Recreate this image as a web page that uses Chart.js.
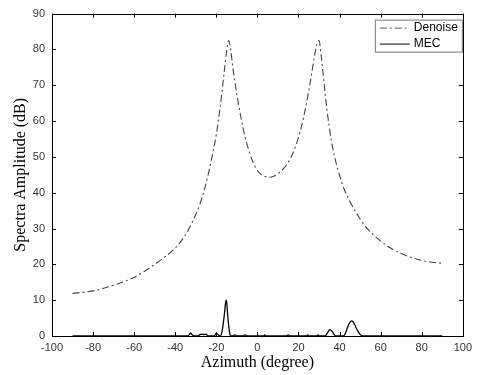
<!DOCTYPE html>
<html>
<head>
<meta charset="utf-8">
<script src="https://cdn.jsdelivr.net/npm/chart.js@4/dist/chart.umd.min.js"></script>
<style>
  html, body { margin: 0; padding: 0; background: #fff; }
  #wrap { width: 477px; height: 375px; }
</style>
</head>
<body>
<div id="wrap"><canvas id="chartCanvas" width="477" height="375"></canvas></div>
<script>
"use strict";

// Denoise spectrum (dB)
const denoiseAz = [-90, -80, -70, -60, -50, -40, -36, -32, -28, -26, -24, -22, -20, -18, -16, -15, -14, -13, -12, -11, -10, -8, -6, -4, -2, 0, 2, 4, 6, 8, 10, 12, 14, 16, 18, 20, 22, 24, 26, 28, 29, 30, 31, 32, 33, 34, 36, 38, 40, 42, 45, 48, 52, 56, 60, 65, 70, 75, 80, 85, 90];
const denoiseDb = [11.9, 12.6, 14.2, 16.4, 20.0, 24.6, 27.4, 31.4, 36.8, 40.5, 45.0, 50.2, 56.3, 64.5, 74.5, 79.5, 82.5, 79.8, 75.2, 71.0, 67.4, 61.0, 55.5, 51.5, 48.3, 46.2, 45.0, 44.5, 44.3, 44.6, 45.3, 46.3, 47.6, 49.5, 52.0, 55.5, 59.8, 65.3, 71.8, 78.8, 81.5, 82.5, 78.5, 73.0, 67.5, 62.5, 54.5, 49.0, 44.8, 41.3, 37.6, 34.5, 31.0, 28.5, 26.5, 24.5, 23.0, 21.9, 21.1, 20.6, 20.3];

// MEC spectrum (dB)
const mecAz = [-90, -34, -33, -32.5, -32, -31, -29, -28, -27, -26, -25, -24, -21, -20, -19, -18, -17, -16, -15.3, -15, -14.5, -14, -13.5, -13, -12, -11, -10, -7, -6, -5, 3, 3.5, 4, 14, 15, 16, 24, 24.5, 25, 29, 29.5, 30, 33, 34, 35.3, 36.5, 37.5, 38.5, 42, 43, 44, 45, 45.8, 46.5, 47.5, 48.5, 49.5, 50.5, 51.5, 90];
const mecDb = [0, 0, 0.5, 0.8, 0.5, 0, 0, 0.4, 0.5, 0.4, 0.5, 0, 0, 0.8, 0.3, 0, 2, 6.5, 10, 9.6, 6, 3, 0.8, 0, 0, 0.3, 0, 0, 0.3, 0, 0, 0.3, 0, 0, 0.3, 0, 0, 0.3, 0, 0, 0.3, 0, 0, 0.8, 1.8, 1.2, 0.3, 0, 0, 1, 2.6, 3.8, 4.2, 4.0, 3.0, 1.8, 0.8, 0.2, 0, 0];

const xTicks = [-100, -80, -60, -40, -20, 0, 20, 40, 60, 80, 100];
const yTicks = [0, 10, 20, 30, 40, 50, 60, 70, 80, 90];

const seriesNames = ['Denoise', 'MEC'];
const denoiseDash = [7, 3, 2, 3];

function pairs(xs, ys) {
    return xs.map((x, i) => ({ x: x, y: ys[i] }));
}

// box + inward ticks on all four sides, like the original
const boxPlugin = {
    id: 'box',
    afterDraw(chart) {
        const { ctx, chartArea: a, scales } = chart;
        ctx.save();
        ctx.strokeStyle = '#000';
        ctx.lineWidth = 1;
        ctx.beginPath();
        xTicks.forEach((t) => {
            const px = Math.round(scales.x.getPixelForValue(t)) + 0.5;
            ctx.moveTo(px, a.bottom); ctx.lineTo(px, a.bottom - 4);
            ctx.moveTo(px, a.top); ctx.lineTo(px, a.top + 4);
        });
        yTicks.forEach((t) => {
            const py = Math.round(scales.y.getPixelForValue(t)) + 0.5;
            ctx.moveTo(a.left, py); ctx.lineTo(a.left + 4, py);
            ctx.moveTo(a.right, py); ctx.lineTo(a.right - 4, py);
        });
        ctx.stroke();
        ctx.strokeRect(Math.round(a.left) + 0.5, Math.round(a.top) + 0.5,
            Math.round(a.right - a.left), Math.round(a.bottom - a.top));
        ctx.restore();
    }
};

// legend box in the upper right corner
const legendPlugin = {
    id: 'innerLegend',
    afterDraw(chart) {
        const { ctx, chartArea: a } = chart;
        const w = 87, h = 32;
        const x0 = a.right - w - 1, y0 = a.top + 6;
        ctx.save();
        ctx.fillStyle = '#fff';
        ctx.fillRect(x0, y0, w, h);
        ctx.strokeStyle = '#777';
        ctx.lineWidth = 1;
        ctx.strokeRect(x0 + 0.5, y0 + 0.5, w, h);
        ctx.font = '12px "Liberation Sans", Arial, sans-serif';
        ctx.textBaseline = 'middle';
        ctx.fillStyle = '#000';
        const rows = [y0 + 8, y0 + 24];
        seriesNames.forEach((name, i) => {
            ctx.beginPath();
            ctx.setLineDash(i === 0 ? denoiseDash : []);
            ctx.strokeStyle = i === 0 ? '#555' : '#000';
            ctx.moveTo(x0 + 5, rows[i] + 0.5);
            ctx.lineTo(x0 + 35, rows[i] + 0.5);
            ctx.stroke();
            ctx.fillText(name, x0 + 39, rows[i]);
        });
        ctx.restore();
    }
};

const ctx = document.getElementById('chartCanvas').getContext('2d');
const plot = new Chart(ctx, {
    type: 'line',
    data: {
        datasets: [
            {
                label: seriesNames[0],
                data: pairs(denoiseAz, denoiseDb),
                borderColor: '#444',
                borderWidth: 1.1,
                borderDash: denoiseDash,
                pointRadius: 0,
                cubicInterpolationMode: 'monotone',
                fill: false
            },
            {
                label: seriesNames[1],
                data: pairs(mecAz, mecDb),
                borderColor: '#000',
                borderWidth: 1.3,
                pointRadius: 0,
                cubicInterpolationMode: 'monotone',
                fill: false,
                clip: 4
            }
        ]
    },
    options: {
        responsive: false,
        animation: false,
        layout: { padding: { top: 11, right: 10, left: 0, bottom: 0 } },
        plugins: {
            legend: { display: false },
            tooltip: { enabled: false }
        },
        scales: {
            x: {
                type: 'linear',
                min: -100,
                max: 100,
                afterBuildTicks: (s) => { s.ticks = xTicks.map((v) => ({ value: v })); },
                afterFit: (s) => { s.height = 39; },
                grid: { display: false, drawTicks: false },
                border: { display: false },
                ticks: {
                    padding: 5,
                    color: '#333',
                    font: { family: '"Liberation Sans", Arial, sans-serif', size: 11 }
                },
                title: {
                    display: true,
                    text: 'Azimuth (degree)',
                    color: '#000',
                    padding: { top: 0, bottom: 3 },
                    font: { family: '"Liberation Serif", "Times New Roman", serif', size: 16 }
                }
            },
            y: {
                min: 0,
                max: 90,
                afterBuildTicks: (s) => { s.ticks = yTicks.map((v) => ({ value: v })); },
                afterFit: (s) => { s.width = 52; },
                grid: { display: false, drawTicks: false },
                border: { display: false },
                ticks: {
                    padding: 7,
                    color: '#333',
                    font: { family: '"Liberation Sans", Arial, sans-serif', size: 11 }
                },
                title: {
                    display: true,
                    text: 'Spectra Amplitude (dB)',
                    color: '#000',
                    padding: { top: 11, bottom: 0 },
                    font: { family: '"Liberation Serif", "Times New Roman", serif', size: 16 }
                }
            }
        }
    },
    plugins: [boxPlugin, legendPlugin]
});
</script>
</body>
</html>
